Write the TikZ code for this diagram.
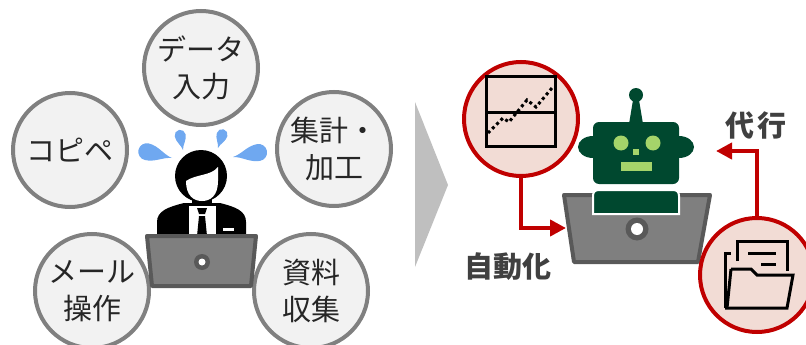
\documentclass[tikz,border=0pt]{standalone}
\usepackage{fontspec}
\newfontfamily\jpfont{Noto Sans CJK JP}
\usetikzlibrary{arrows.meta}
\definecolor{ringgray}{HTML}{808080}
\definecolor{taskfill}{HTML}{F2F2F2}
\definecolor{inkgray}{HTML}{262626}
\definecolor{labelgray}{HTML}{404040}
\definecolor{accent}{HTML}{C00000}
\definecolor{iconfill}{HTML}{F2DCD5}
\definecolor{padgray}{HTML}{7F7F7F}
\definecolor{rimgray}{HTML}{595959}
\definecolor{chevron}{HTML}{BFBFBF}
\definecolor{botgreen}{HTML}{00482F}
\definecolor{botlight}{HTML}{A5D46A}
\definecolor{sweat}{HTML}{6FA8F0}

\begin{document}
\begin{tikzpicture}[x=1pt,y=-1pt,
		task/.style={circle,draw=ringgray,fill=taskfill,line width=4pt,minimum size=114pt,inner sep=0pt,align=center,text=inkgray,font=\jpfont\fontsize{29}{37}\selectfont},
		icon/.style={circle,draw=accent,fill=iconfill,line width=4pt,minimum size=114pt,inner sep=0pt},
		caption/.style={text=labelgray,font=\jpfont\bfseries\fontsize{29}{30}\selectfont},
		flow/.style={draw=accent,line width=4pt,-{Triangle[length=16pt,width=16pt]}},
		laptop/.style={fill=padgray,draw=rimgray,line width=4pt,line join=round},
		pics/drop/.style 2 args={code={
			\fill[sweat] (0,0) .. controls (0.35*#1,0.15*#2) and (0.6*#1,#2) .. (#1,#2)
				arc[start angle=90,end angle=-90,radius=#2]
				.. controls (0.6*#1,-#2) and (0.35*#1,-0.15*#2) .. (0,0) -- cycle;
		}}]
	\useasboundingbox (0,0) rectangle (806,345);

	% manual tasks
	\node [task] (datain) at (201,68) {データ\\入力};
	\node [task] (copipe) at (70,150) {コピペ};
	\node [task] (shukei) at (334,149) {集計・\\加工};
	\node [task] (mail) at (92,291) {メール\\操作};
	\node [task] (shiryo) at (311,291) {資料\\収集};

	% worker at the desk
	\pic [rotate=166] at (172,158) {drop={26}{8.5}};
	\pic [rotate=101] at (183,150) {drop={15}{5.5}};
	\pic [rotate=73] at (218,148) {drop={14}{5.5}};
	\pic [rotate=10] at (233,157) {drop={26}{8.5}};
	\fill (157,236) -- (157,222) .. controls (157,211) and (168,207) .. (184,203) -- (220,203)
		.. controls (236,207) and (246,211) .. (246,222) -- (246,236) -- cycle;
	\fill (201,176) circle (26);
	\fill (192,195) rectangle (212,208);
	\fill[white] (186,181) .. controls (186,195) and (193,201) .. (202,201)
		.. controls (211,201) and (218,195) .. (218,181) -- (218,167)
		.. controls (211,176) and (196,174) .. (186,181) -- cycle;
	\fill[white] (189,206) rectangle (216,236);
	\fill (197,208) -- (207,208) -- (205,214) -- (199,214) -- cycle;
	\fill (199,216) -- (205,216) -- (207,236) -- (197,236) -- cycle;
	\fill[white] (223,228) rectangle (234,231);
	\draw[laptop] (147,236) -- (256,236) -- (251,286) -- (152,286) -- cycle;
	\fill[rimgray] (202,262) circle (8);
	\fill[white] (202,262) circle (3.5);

	\fill[chevron] (415,102) -- (448,185) -- (415,267) -- cycle;

	% robot at the desk
	\fill[botgreen] (593,147) ellipse [x radius=15,y radius=11];
	\fill[botgreen] (679,147) ellipse [x radius=15,y radius=11];
	\fill[botgreen] (636,95) circle (7);
	\fill[botgreen] (633,100) -- (639,100) -- (643,124) -- (629,124) -- cycle;
	\fill[botgreen,rounded corners=6pt] (593,122) rectangle (679,184);
	\fill[botlight] (621,143) circle (7.5);
	\fill[botlight] (653,143) circle (7.5);
	\fill[botlight] (633,149) rectangle (639,155);
	\fill[botlight] (621,162) rectangle (652,171);
	\draw[laptop] (564,195) -- (710,195) -- (698,262) -- (574,262) -- cycle;
	\fill[rimgray] (637,229) circle (11.5);
	\fill[white] (637,229) circle (6);
	\draw[white,line width=2pt,fill=botgreen] (593,214) -- (593,196) .. controls (593,192) and (595,190) .. (599,190)
		-- (673,190) .. controls (677,190) and (679,192) .. (679,196) -- (679,214) -- cycle;

	% automation and hand-over
	\node [icon] (chart) at (521,119) {};
	\node [icon] (folder) at (757,275) {};
	\coordinate (autoin) at (566,228);
	\coordinate (proxyin) at (716,151);
	\draw[flow] (chart.south) |- (autoin);
	\draw[flow] (folder.north) |- (proxyin);
	\node [caption] (auto) at (508,267) {自動化};
	\node [caption] (proxy) at (756,125) {代\kern3pt行};

	\begin{scope}[line width=3pt]
		\draw (486,77) rectangle (555,146);
		\draw (486,112) -- (555,112);
		\draw[dash pattern=on 3pt off 3pt] (488,133) -- (503,118) -- (509,122) -- (527,100) -- (536,107) -- (552,88);
		\draw (737,261) -- (737,241) -- (787,241) -- (787,271);
		\draw (725,308) -- (725,253) -- (731,253);
		\draw (748,253) -- (776,253);
		\draw (761,264) -- (776,264);
		\draw (731,269) -- (751,269) -- (757,275) -- (793,275) -- (787,308) -- (725,308);
		\draw (731,269) -- (727,308);
	\end{scope}
\end{tikzpicture}
\end{document}
